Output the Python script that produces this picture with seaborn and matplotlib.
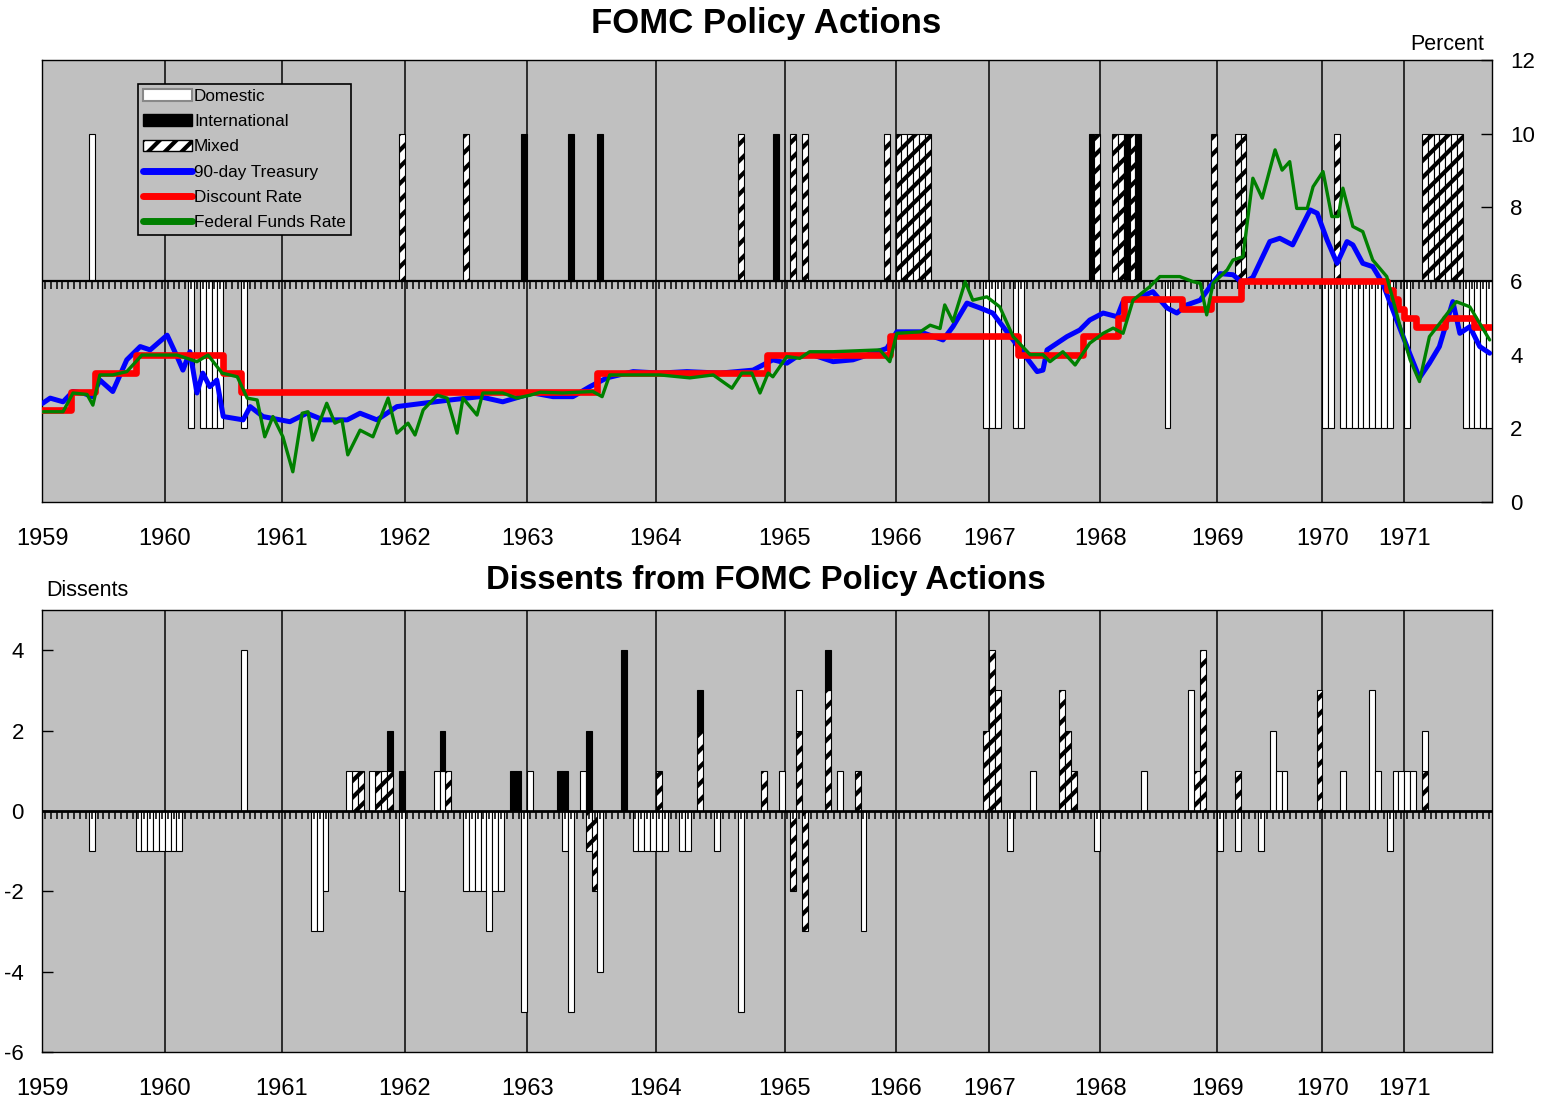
import matplotlib
matplotlib.use("Agg")
import matplotlib.pyplot as plt
import seaborn as sns
from matplotlib.patches import Patch
from matplotlib.lines import Line2D

# x axis = FOMC meeting index; first meeting of each year
years = list(range(1959, 1972))
year_start = [0, 21, 41, 62, 83, 105, 127, 146, 162, 181, 201, 219, 233]
n_meetings = 248

# policy actions (top panel)
up_meeting = [8, 61, 72, 82, 90, 95, 119, 125, 128, 130, 144, 146, 147, 148, 149, 150, 151,
              179, 180, 183, 184, 185, 186, 187, 200, 204, 205, 221,
              236, 237, 238, 239, 240, 241, 242]
up_type = ['D', 'M', 'M', 'I', 'I', 'I', 'M', 'I', 'M', 'M', 'M', 'M', 'M', 'M', 'M', 'M', 'M',
           'I', 'M', 'M', 'M', 'I', 'M', 'I', 'M', 'M', 'M', 'M',
           'M', 'M', 'M', 'M', 'M', 'M', 'M']
down_meeting = [25, 27, 28, 29, 30, 34, 161, 162, 163, 166, 167, 192, 219, 220,
                222, 223, 224, 225, 226, 227, 228, 229, 230, 233, 243, 244, 245, 246, 247]
down_type = ['D'] * len(down_meeting)

# interest rates (percent)
tbill_x = [0.1, 1.4, 3.6, 5.3, 7.0, 8.6, 9.9, 12.1, 14.5, 16.8,
           18.5, 21.4, 23.1, 24.1, 25.3, 26.5, 27.5, 28.7, 29.9, 31.0,
           34.4, 35.6, 37.8, 42.4, 45.3, 48.1, 52.2, 54.4, 57.3, 60.7,
           65.2, 69.8, 74.9, 78.8, 84.0, 87.4, 90.8, 93.7, 96.6, 101.1,
           105.7, 110.3, 116.0, 121.6, 125.0, 127.4, 129.1, 131.9, 135.3, 138.7,
           142.1, 144.5, 146.2, 150.2, 154.1, 155.8, 158.2, 160.4, 162.6, 166.1,
           170.2, 171.2, 171.9, 175.3, 177.5, 179.2, 181.5, 183.9, 184.9, 187.3,
           190.0, 192.4, 194.1, 195.8, 198.1, 199.8, 201.5, 203.7, 205.4, 207.1,
           210.0, 211.7, 213.9, 216.9, 218.1, 219.8, 221.5, 223.2, 224.2, 225.9,
           227.6, 229.3, 231.7, 233.9, 235.6, 237.3, 239.0, 241.3, 242.5, 244.2,
           245.9, 247.6]
tbill_y = [2.68, 2.82, 2.72, 3.0, 2.96, 2.86, 3.31, 3.0, 3.86, 4.22,
           4.13, 4.53, 3.95, 3.58, 4.08, 2.96, 3.5, 3.13, 3.31, 2.32,
           2.23, 2.59, 2.32, 2.18, 2.41, 2.23, 2.23, 2.41, 2.23, 2.59,
           2.68, 2.77, 2.86, 2.72, 2.96, 2.86, 2.86, 3.13, 3.37, 3.54,
           3.5, 3.54, 3.5, 3.58, 3.86, 3.77, 3.95, 3.99, 3.81, 3.86,
           4.04, 4.17, 4.62, 4.62, 4.4, 4.76, 5.4, 5.27, 5.13, 4.4,
           3.54, 3.58, 4.13, 4.49, 4.67, 4.94, 5.13, 5.03, 5.44, 5.53,
           5.71, 5.27, 5.13, 5.35, 5.48, 5.85, 6.2, 6.17, 5.94, 6.1,
           7.07, 7.16, 6.98, 7.93, 7.84, 7.11, 6.48, 7.07, 6.98, 6.48,
           6.39, 5.94, 4.94, 4.04, 3.37, 3.77, 4.22, 5.44, 4.58, 4.76,
           4.22, 4.04]

# discount rate: meeting where each new rate starts
disc_x = [0, 5, 9, 16, 31, 34, 95, 124, 145, 167, 178, 184, 185, 195, 200, 205,
          230, 231, 232, 233, 235, 240, 245, 248]
disc_y = [2.5, 3.0, 3.5, 4.0, 3.5, 3.0, 3.5, 4.0, 4.5, 4.0, 4.5, 5.0, 5.5, 5.25, 5.5, 6.0,
          5.75, 5.5, 5.25, 5.0, 4.75, 5.0, 4.75, 4.75]

ff_x = [0.2, 3.6, 5.3, 7.7, 8.7, 9.9, 12.1, 14.5, 17.1, 23.1,
        26.5, 28.4, 30.8, 33.4, 35.1, 36.8, 38.1, 39.5, 41.2, 42.9,
        44.5, 45.5, 46.3, 48.7, 50.1, 51.3, 52.3, 54.4, 56.6, 59.2,
        60.7, 62.6, 63.8, 65.2, 67.6, 69.3, 71.0, 72.0, 74.4, 75.4,
        78.8, 81.2, 83.5, 85.2, 89.1, 94.2, 95.8, 97.1, 105.7, 110.8,
        114.8, 118.0, 119.7, 121.4, 122.8, 124.2, 125.0, 127.4, 129.6, 131.3,
        135.3, 143.3, 145.0, 146.2, 150.2, 151.9, 153.6, 154.4, 155.8, 157.9,
        159.2, 161.6, 163.8, 166.1, 169.0, 171.2, 172.4, 174.6, 176.7, 179.2,
        181.5, 183.2, 184.9, 186.6, 189.5, 191.2, 194.6, 196.9, 198.1, 199.2,
        200.3, 202.7, 203.7, 205.4, 207.1, 208.7, 210.9, 212.1, 213.4, 214.6,
        216.4, 217.4, 219.1, 220.6, 221.7, 222.5, 224.2, 225.9, 227.6, 230.0,
        232.3, 234.0, 235.6, 237.3, 239.5, 241.9, 244.2, 245.9, 247.6]
ff_y = [2.45, 2.45, 2.96, 2.92, 2.63, 3.45, 3.45, 3.54, 3.99, 3.99,
        3.81, 3.99, 3.5, 3.4, 2.82, 2.77, 1.77, 2.32, 1.77, 0.82,
        2.41, 2.45, 1.68, 2.68, 2.14, 2.23, 1.28, 1.95, 1.77, 2.82,
        1.87, 2.14, 1.82, 2.5, 2.9, 2.82, 1.87, 2.82, 2.36, 2.96,
        2.96, 2.82, 2.9, 2.98, 2.96, 3.0, 2.86, 3.45, 3.45, 3.37,
        3.45, 3.09, 3.5, 3.5, 2.96, 3.5, 3.4, 3.95, 3.9, 4.08,
        4.08, 4.13, 3.81, 4.58, 4.62, 4.8, 4.71, 5.35, 4.9, 5.98,
        5.48, 5.57, 5.3, 4.49, 4.0, 4.0, 3.81, 4.08, 3.72, 4.31,
        4.58, 4.72, 4.58, 5.48, 5.85, 6.12, 6.12, 5.98, 5.94, 5.08,
        5.94, 6.3, 6.57, 6.66, 8.79, 8.25, 9.56, 9.01, 9.24, 7.97,
        7.97, 8.56, 8.97, 7.75, 7.75, 8.52, 7.48, 7.34, 6.57, 6.12,
        4.76, 3.86, 3.27, 4.49, 4.94, 5.44, 5.3, 4.85, 4.4]

# dissents (bottom panel), + favours firmer policy, - favours easier policy
dom_meeting = [8, 16, 17, 18, 19, 20, 21, 22, 23, 34, 46, 47, 48, 52, 56, 61, 67, 68,
               72, 73, 74, 75, 76, 77, 78, 82, 83, 89, 90, 92, 95,
               101, 102, 103, 104, 105, 106, 109, 110, 115, 119, 126, 129, 136, 140,
               165, 169, 180, 188, 196, 201, 204, 208, 210, 211, 212, 222, 227, 228, 230,
               231, 232, 233, 234, 236]
dom_value = [-1, -1, -1, -1, -1, -1, -1, -1, -1, 4, -3, -3, -2, 1, 1, -2, 1, 1,
             -2, -2, -2, -2, -3, -2, -2, -5, 1, -1, -5, 1, -4,
             -1, -1, -1, -1, -1, -1, -1, -1, -1, -5, 1, 1, 1, -3,
             -1, 1, -1, 1, 3, -1, -1, -1, 2, 1, 1, 1, 3, 1, -1,
             1, 1, 1, 1, 1]
intl_meeting = [59, 61, 68, 80, 81, 88, 89, 93, 99, 112, 134]
intl_value = [1, 1, 1, 1, 1, 1, 1, 2, 4, 1, 1]
mix_meeting = [53, 54, 57, 58, 59, 69, 93, 94, 105, 112, 123, 128, 129, 130, 134, 139,
               161, 162, 163, 174, 175, 176, 197, 198, 204, 218, 236]
mix_value = [1, 1, 1, 1, 1, 1, -1, -2, 1, 2, 1, -2, 2, -3, 3, 1,
             2, 4, 3, 3, 2, 1, 1, 4, 1, 3, 1]

sns.set_theme(style="white")
plt.rcParams['font.family'] = ['Liberation Sans', 'DejaVu Sans']
plt.rcParams['hatch.linewidth'] = 3.0
plt.rcParams['text.color'] = 'black'
plt.rcParams['xtick.color'] = 'black'
plt.rcParams['ytick.color'] = 'black'
plt.rcParams['axes.unicode_minus'] = False

bar_style = {
    'D': dict(facecolor='white', edgecolor='black'),
    'I': dict(facecolor='black', edgecolor='black'),
    'M': dict(facecolor='white', edgecolor='black', hatch='//'),
}
gray = '#c0c0c0'

W, H = 1543, 1102
fig = plt.figure(figsize=(W / 100, H / 100), dpi=100)
ax1 = fig.add_axes([42 / W, 1 - 502 / H, 1450 / W, 442 / H])
ax2 = fig.add_axes([42 / W, 1 - 1052 / H, 1450 / W, 442 / H])

for ax in (ax1, ax2):
    ax.set_facecolor(gray)
    ax.set_xlim(0, n_meetings)
    for s in ax.spines.values():
        s.set_color('black')
        s.set_linewidth(1.0)
    for x0 in year_start[1:]:
        ax.axvline(x0, color='#202020', lw=1.3, zorder=1)
    ax.set_xticks(year_start)
    ax.set_xticklabels([str(y) for y in years])
    ax.tick_params(axis='x', length=0, pad=19, labelsize=17, labelcolor='black')

# ---- top panel ----
for m, t in zip(up_meeting, up_type):
    ax1.bar(m, 4, bottom=6, width=1, align='edge', linewidth=0.8, zorder=2, **bar_style[t])
for m, t in zip(down_meeting, down_type):
    ax1.bar(m, -4, bottom=6, width=1, align='edge', linewidth=0.8, zorder=2, **bar_style[t])

ax1.axhline(6, color='black', lw=1.6, zorder=2.5)
ax1.vlines([i + 0.5 for i in range(n_meetings)], 5.78, 6, color='black', lw=1.1, zorder=2.5)

sns.lineplot(x=tbill_x, y=tbill_y, ax=ax1, color='#0000ff', linewidth=3.6, zorder=3)
sns.lineplot(x=disc_x, y=disc_y, ax=ax1, color='#ff0000', linewidth=4.8,
             drawstyle='steps-post', zorder=3.1)
sns.lineplot(x=ff_x, y=ff_y, ax=ax1, color='#008000', linewidth=2.4, zorder=3.2)

ax1.set_ylim(0, 12)
ax1.set_yticks(range(0, 13, 2))
ax1.yaxis.tick_right()
ax1.tick_params(axis='y', direction='in', length=8, width=1, pad=13, labelsize=16,
                right=True, left=False, labelcolor='black')
ax1.set_xlabel('')
ax1.set_ylabel('')

handles = [
    Patch(facecolor='white', edgecolor='#888888', linewidth=1.5, label='Domestic'),
    Patch(facecolor='black', edgecolor='black', label='International'),
    Patch(facecolor='white', edgecolor='black', hatch='//', label='Mixed'),
    Line2D([], [], color='#0000ff', lw=5, label='90-day Treasury'),
    Line2D([], [], color='#ff0000', lw=5, label='Discount Rate'),
    Line2D([], [], color='#008000', lw=5, label='Federal Funds Rate'),
]
leg = ax1.legend(handles=handles, loc='upper left', bbox_to_anchor=(0.066, 0.946),
                 borderaxespad=0, fontsize=12.3, handlelength=2.9, handleheight=0.7,
                 handletextpad=0.1, labelspacing=0.6, borderpad=0.3,
                 fancybox=False, framealpha=1, facecolor=gray, edgecolor='black')
leg.get_frame().set_linewidth(1.2)
leg.set_zorder(10)

# ---- bottom panel ----
pos_base = {}
neg_base = {}
for t, meetings, values in (('M', mix_meeting, mix_value),
                            ('D', dom_meeting, dom_value),
                            ('I', intl_meeting, intl_value)):
    for m, v in zip(meetings, values):
        base = pos_base if v > 0 else neg_base
        b = base.get(m, 0)
        ax2.bar(m, v, bottom=b, width=1, align='edge', linewidth=0.8, zorder=2, **bar_style[t])
        base[m] = b + v

ax2.axhline(0, color='black', lw=2.0, zorder=2.5)
ax2.vlines([i + 0.5 for i in range(n_meetings)], -0.2, 0, color='black', lw=1.1, zorder=2.5)

ax2.set_ylim(-6, 5)
ax2.set_yticks(range(-6, 5, 2))
ax2.tick_params(axis='y', direction='in', length=8, width=1, pad=13, labelsize=16,
                left=True, right=False, labelcolor='black')

# ---- texts ----
fig.text(766 / W, 1 - 24 / H, 'FOMC Policy Actions', ha='center', va='center',
         fontsize=25, fontweight='bold')
fig.text(1447 / W, 1 - 45 / H, 'Percent', ha='center', va='center', fontsize=15.5)
fig.text(766 / W, 1 - 581 / H, 'Dissents from FOMC Policy Actions', ha='center',
         va='center', fontsize=23.7, fontweight='bold')
fig.text(87 / W, 1 - 591 / H, 'Dissents', ha='center', va='center', fontsize=15.5)

fig.savefig('out.png', dpi=100, facecolor='white')
